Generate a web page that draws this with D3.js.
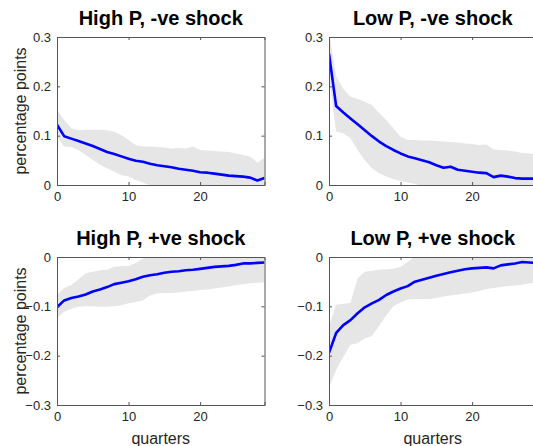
<!DOCTYPE html>
<html>
<head>
<meta charset="utf-8">
<script src="https://cdn.jsdelivr.net/npm/d3@7"></script>
<style>
  html, body { margin: 0; padding: 0; background: #ffffff; overflow: hidden; }
  text { font-family: "Liberation Sans", Arial, sans-serif; }
</style>
</head>
<body>
<svg id="chart" width="533" height="446"></svg>
<script>
// ---- data (quarters 0..29) ----
const quarters = d3.range(0, 30);

const titles = ["High P, -ve shock", "Low P, -ve shock", "High P, +ve shock", "Low P, +ve shock"];
const yLabel = "percentage points";
const xLabel = "quarters";
const xTicks = [0, 10, 20];
const yTicksNeg = [0, 0.1, 0.2, 0.3];
const yTicksPos = [-0.3, -0.2, -0.1, 0];

// High P, -ve shock
const hiNegMed = [0.122,0.099,0.094,0.089,0.084,0.079,0.073,0.067,0.063,0.058,0.053,0.049,0.047,0.043,0.040,0.038,0.036,0.033,0.031,0.029,0.026,0.025,0.023,0.021,0.019,0.018,0.017,0.015,0.009,0.014];
const hiNegUp  = [0.152,0.132,0.115,0.111,0.112,0.112,0.112,0.111,0.108,0.101,0.091,0.081,0.078,0.078,0.077,0.076,0.074,0.075,0.074,0.078,0.071,0.070,0.069,0.068,0.067,0.064,0.061,0.058,0.045,0.055];
const hiNegLo  = [0.098,0.078,0.077,0.071,0.061,0.051,0.041,0.034,0.027,0.020,0.017,0.010,0.005,-0.001,-0.006,-0.010,-0.014,-0.016,-0.018,-0.020,-0.022,-0.023,-0.024,-0.025,-0.026,-0.027,-0.028,-0.029,-0.030,-0.030];

// Low P, -ve shock
const loNegMed = [0.266,0.160,0.147,0.135,0.123,0.111,0.099,0.088,0.079,0.071,0.064,0.058,0.054,0.050,0.046,0.040,0.035,0.037,0.031,0.029,0.027,0.025,0.024,0.016,0.019,0.017,0.014,0.013,0.013,0.013];
const loNegUp  = [0.310,0.220,0.195,0.179,0.175,0.169,0.162,0.146,0.132,0.115,0.098,0.091,0.091,0.090,0.090,0.089,0.088,0.087,0.086,0.084,0.083,0.081,0.082,0.072,0.071,0.070,0.068,0.065,0.064,0.062];
const loNegLo  = [0.220,0.108,0.105,0.095,0.071,0.050,0.034,0.024,0.017,0.012,0.008,0.005,0.002,-0.002,-0.006,-0.010,-0.013,-0.015,-0.017,-0.019,-0.021,-0.022,-0.023,-0.024,-0.025,-0.026,-0.027,-0.028,-0.029,-0.030];

// High P, +ve shock
const hiPosMed = [-0.102,-0.088,-0.083,-0.080,-0.076,-0.070,-0.066,-0.061,-0.055,-0.052,-0.049,-0.045,-0.040,-0.037,-0.035,-0.032,-0.030,-0.029,-0.027,-0.026,-0.024,-0.022,-0.020,-0.019,-0.018,-0.016,-0.013,-0.013,-0.012,-0.011];
const hiPosUp  = [-0.077,-0.063,-0.057,-0.045,-0.033,-0.030,-0.027,-0.026,-0.020,-0.019,-0.018,-0.012,-0.003,0.001,0.004,0.006,0.008,0.010,0.012,0.013,0.014,0.015,0.016,0.017,0.018,0.019,0.020,0.021,0.022,0.022];
const hiPosLo  = [-0.124,-0.111,-0.105,-0.101,-0.100,-0.100,-0.101,-0.101,-0.100,-0.098,-0.094,-0.091,-0.088,-0.078,-0.074,-0.073,-0.073,-0.072,-0.070,-0.069,-0.067,-0.066,-0.064,-0.062,-0.060,-0.057,-0.055,-0.053,-0.052,-0.051];

// Low P, +ve shock
const loPosMed = [-0.194,-0.154,-0.138,-0.128,-0.114,-0.102,-0.094,-0.087,-0.077,-0.070,-0.064,-0.059,-0.050,-0.046,-0.042,-0.038,-0.0345,-0.031,-0.028,-0.025,-0.023,-0.022,-0.021,-0.023,-0.017,-0.015,-0.013,-0.010,-0.011,-0.012];
const loPosUp  = [-0.140,-0.097,-0.095,-0.093,-0.043,-0.030,-0.028,-0.026,-0.025,-0.024,-0.020,-0.010,0.001,0.004,0.006,0.008,0.010,0.011,0.012,0.013,0.014,0.015,0.016,0.017,0.018,0.018,0.019,0.019,0.020,0.020];
const loPosLo  = [-0.265,-0.229,-0.202,-0.178,-0.175,-0.165,-0.160,-0.140,-0.118,-0.100,-0.092,-0.086,-0.085,-0.085,-0.085,-0.083,-0.080,-0.078,-0.076,-0.074,-0.072,-0.069,-0.065,-0.063,-0.061,-0.059,-0.058,-0.056,-0.053,-0.052];

const panels = [
  { title: titles[0], med: hiNegMed, up: hiNegUp, lo: hiNegLo, yDom: [0, 0.3], yTicks: yTicksNeg, col: 0, row: 0 },
  { title: titles[1], med: loNegMed, up: loNegUp, lo: loNegLo, yDom: [0, 0.3], yTicks: yTicksNeg, col: 1, row: 0 },
  { title: titles[2], med: hiPosMed, up: hiPosUp, lo: hiPosLo, yDom: [-0.3, 0], yTicks: yTicksPos, col: 0, row: 1 },
  { title: titles[3], med: loPosMed, up: loPosUp, lo: loPosLo, yDom: [-0.3, 0], yTicks: yTicksPos, col: 1, row: 1 }
];

// ---- layout ----
const colX = [57, 329];
const rowY = [37, 257];
const pw = 207.5, ph = 148;

const svg = d3.select("#chart");
const axisColor = "#555555";
const textColor = "#262626";

const fmt = v => (v === 0 ? "0" : d3.format(".1f")(v));

panels.forEach((p, i) => {
  const x0 = colX[p.col], y0 = rowY[p.row];
  const g = svg.append("g").attr("transform", `translate(${x0},${y0})`);
  const x = d3.scaleLinear().domain([0, 29]).range([0, pw]);
  const y = d3.scaleLinear().domain(p.yDom).range([ph, 0]);

  const clipId = "clip" + i;
  g.append("clipPath").attr("id", clipId)
    .append("rect").attr("x", 0).attr("y", 0).attr("width", pw).attr("height", ph);

  const plot = g.append("g").attr("clip-path", `url(#${clipId})`);

  const area = d3.area()
    .x((d, j) => x(quarters[j]))
    .y0((d, j) => y(p.lo[j]))
    .y1((d, j) => y(p.up[j]));
  plot.append("path").datum(p.med).attr("d", area)
    .attr("fill", "#e6e6e6").attr("stroke", "none");

  const line = d3.line().x((d, j) => x(quarters[j])).y(d => y(d));
  plot.append("path").datum(p.med).attr("d", line)
    .attr("fill", "none").attr("stroke", "#0000ff").attr("stroke-width", 2.6)
    .attr("stroke-linejoin", "round");

  // axes (MATLAB-style box with inward ticks)
  const axB = d3.axisBottom(x).tickValues(xTicks).tickSize(-3).tickPadding(7).tickFormat(d3.format("d"));
  const axT = d3.axisTop(x).tickValues(xTicks).tickSize(-3).tickFormat("");
  const axL = d3.axisLeft(y).tickValues(p.yTicks).tickSize(-3).tickPadding(6).tickFormat(fmt);
  const axR = d3.axisRight(y).tickValues(p.yTicks).tickSize(-3).tickFormat("");

  const gb = g.append("g").attr("transform", `translate(0,${ph})`).call(axB);
  const gt = g.append("g").call(axT);
  const gl = g.append("g").call(axL);
  const gr = g.append("g").attr("transform", `translate(${pw},0)`).call(axR);
  [gb, gt, gl, gr].forEach(a => {
    a.select(".domain").attr("stroke", axisColor).attr("stroke-width", 1);
    a.selectAll(".tick line").attr("stroke", axisColor);
    a.selectAll(".tick text").attr("fill", textColor).style("font-size", "13px")
      .style("font-family", "'Liberation Sans', Arial, sans-serif");
  });

  // title
  g.append("text").attr("x", pw / 2).attr("y", -12)
    .attr("text-anchor", "middle").attr("fill", "#000")
    .style("font-size", "20px").style("font-weight", "bold")
    .text(p.title);

  if (p.col === 0) {
    g.append("text")
      .attr("transform", `translate(${26 - x0},${ph / 2}) rotate(-90)`)
      .attr("text-anchor", "middle").attr("fill", textColor)
      .style("font-size", "16px").text(yLabel);
  }
  if (p.row === 1) {
    g.append("text").attr("x", pw / 2).attr("y", ph + 39)
      .attr("text-anchor", "middle").attr("fill", textColor)
      .style("font-size", "16px").text(xLabel);
  }
});
</script>
</body>
</html>
